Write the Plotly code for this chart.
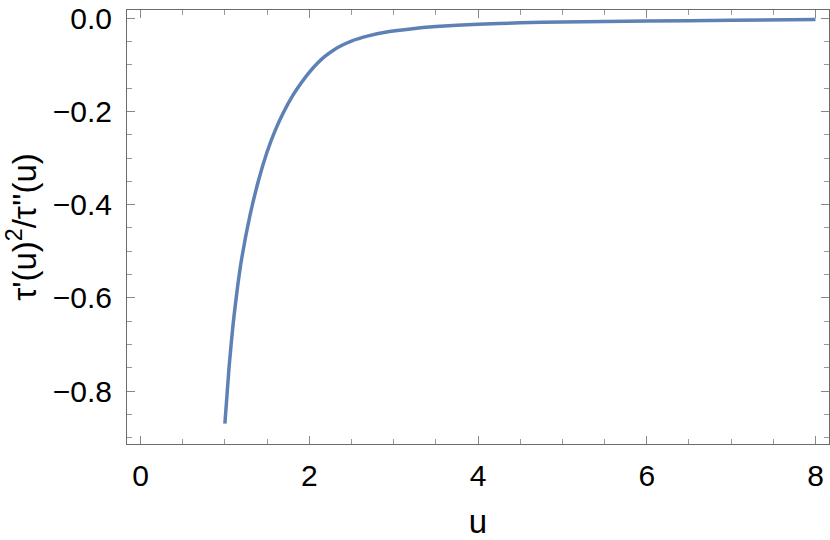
import plotly.graph_objects as go

# values
u = [1.0, 1.05, 1.1, 1.15, 1.2, 1.3, 1.4, 1.5, 1.6, 1.7, 1.8, 1.9, 2.0, 2.1, 2.2,
     2.3, 2.4, 2.5, 2.7, 2.9, 3.2, 3.5, 4.0, 4.5, 5.0, 6.0, 7.0, 8.0]
ratio = [-0.870, -0.748, -0.652, -0.577, -0.515, -0.421, -0.347, -0.287, -0.239,
         -0.200, -0.167, -0.140, -0.116, -0.096, -0.080, -0.067, -0.057, -0.049,
         -0.038, -0.030, -0.023, -0.018, -0.013, -0.010, -0.008, -0.0060, -0.0045,
         -0.003]

x_ticks = [0, 2, 4, 6, 8]
y_ticks = [0.0, -0.2, -0.4, -0.6, -0.8]
y_labels = ["0.0", "\u22120.2", "\u22120.4", "\u22120.6", "\u22120.8"]

fig = go.Figure()
fig.add_trace(go.Scatter(
    x=u, y=ratio, mode='lines',
    line=dict(color='rgb(94,129,181)', width=3.5, shape='spline', smoothing=0.5),
    showlegend=False,
    hoverinfo='skip'
))

frame = '#6b6b6b'
fig.update_layout(
    width=830,
    height=540,
    margin=dict(l=126.5, r=1, t=9.5, b=96),
    plot_bgcolor='white',
    paper_bgcolor='white',
    font=dict(family='Liberation Sans, Arial, sans-serif', size=30, color='black'),
    xaxis=dict(
        range=[-0.16, 8.16],
        tickvals=x_ticks,
        ticks='inside', ticklen=8, tickwidth=1, tickcolor='#888',
        minor=dict(dtick=0.5, tick0=0, ticks='inside', ticklen=5, tickcolor='#999'),
        showline=True, linecolor=frame, linewidth=1, mirror='ticks',
        showgrid=False, zeroline=False, automargin=False,
        ticklabelstandoff=5, ticklabeloverflow='allow',
        title=dict(text='u', standoff=20, font=dict(size=33)),
    ),
    yaxis=dict(
        range=[-0.9135, 0.0176],
        tickvals=y_ticks, ticktext=y_labels,
        ticks='inside', ticklen=8, tickwidth=1, tickcolor='#888',
        minor=dict(dtick=0.05, tick0=0, ticks='inside', ticklen=5, tickcolor='#999'),
        showline=True, linecolor=frame, linewidth=1, mirror='ticks',
        showgrid=False, zeroline=False, automargin=False,
        ticklabelstandoff=8, ticklabeloverflow='allow',
        title=dict(text="\u03c4'(u)<sup>2</sup>/\u03c4''(u)", standoff=6, font=dict(size=33)),
    ),
)

# drop the default 8px page margin so the figure fills the window
fig.write_html("out.html", config={'displayModeBar': False},
               post_script="document.body.style.margin='0';")
